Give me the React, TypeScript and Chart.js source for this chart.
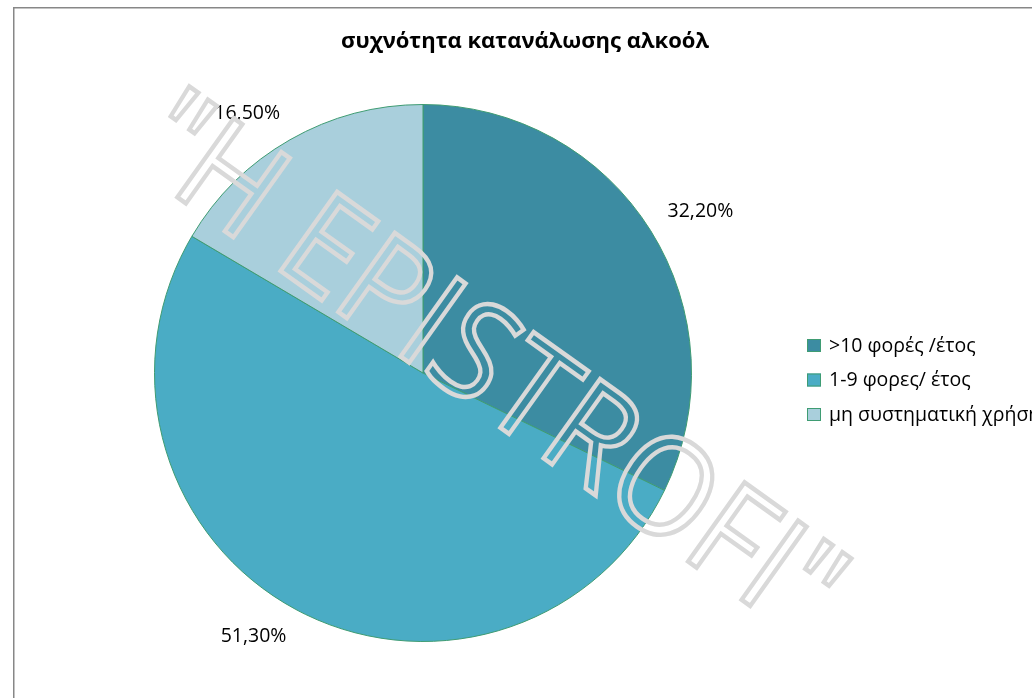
import React, { useEffect, useRef } from "react";
import { Chart, registerables } from "chart.js";

Chart.register(...registerables);

const TITLE = "συχνότητα κατανάλωσης αλκοόλ";
const CATEGORIES = [">10 φορές /έτος", "1-9 φορες/ έτος", "μη συστηματική χρήση"];
const VALUES = [32.2, 51.3, 16.5];
const VALUE_LABELS = ["32,20%", "51,30%", "16,50%"];
const COLORS = ["#3C8CA2", "#4AACC5", "#A9CFDC"];
const EDGE = "#3F9C73";
const WATERMARK = '"H EPISTROFI"';

const FONT = "'Open Sans', 'Noto Sans', sans-serif";

const decorPlugin = {
  id: "decor",
  beforeDraw(chart: any) {
    const ctx = chart.ctx;
    ctx.save();
    ctx.fillStyle = "#ffffff";
    ctx.fillRect(0, 0, chart.width, chart.height);
    ctx.strokeStyle = "#878787";
    ctx.lineWidth = 1.5;
    ctx.strokeRect(13.75, 7.75, chart.width + 50, chart.height + 50);
    // title
    ctx.fillStyle = "#000000";
    ctx.font = `bold 22px ${FONT}`;
    ctx.textAlign = "center";
    ctx.textBaseline = "middle";
    ctx.fillText(TITLE, 525, 42);
    ctx.restore();
  },
  afterDatasetsDraw(chart: any) {
    const ctx = chart.ctx;
    const meta = chart.getDatasetMeta(0);
    ctx.save();
    ctx.font = `19.5px ${FONT}`;
    ctx.fillStyle = "#000000";
    ctx.textAlign = "center";
    ctx.textBaseline = "middle";
    meta.data.forEach((arc: any, i: number) => {
      const mid = (arc.startAngle + arc.endAngle) / 2;
      const r = arc.outerRadius + 20;
      const ax = arc.x + Math.cos(mid) * r;
      const ay = arc.y + Math.sin(mid) * r;
      const w = ctx.measureText(VALUE_LABELS[i]).width;
      const h = 18;
      const cx = ax + Math.sign(Math.cos(mid)) * w / 2;
      const cy = ay + Math.sign(Math.sin(mid)) * h / 2;
      ctx.fillText(VALUE_LABELS[i], cx, cy);
    });
    // legend
    ctx.textAlign = "left";
    ctx.font = `19.5px ${FONT}`;
    CATEGORIES.forEach((c, i) => {
      const y = 339 + i * 34.5;
      ctx.fillStyle = COLORS[i];
      ctx.fillRect(807, y, 14, 13);
      ctx.strokeStyle = EDGE;
      ctx.lineWidth = 1;
      ctx.strokeRect(807.5, y + 0.5, 13, 12);
      ctx.fillStyle = "#000000";
      ctx.fillText(c, 829, y + 7);
    });
    ctx.restore();
  },
  afterDraw(chart: any) {
    const ctx = chart.ctx;
    ctx.save();
    ctx.font = `500 136px ${FONT}`;
    const w = ctx.measureText(WATERMARK).width;
    const capH = ctx.measureText("H").actualBoundingBoxAscent;
    const sx = 830 / w;
    ctx.translate(492, 362);
    ctx.rotate((35.5 * Math.PI) / 180);
    ctx.scale(sx, 1);
    ctx.textAlign = "center";
    ctx.textBaseline = "alphabetic";
    ctx.strokeStyle = "#D9D9D9";
    ctx.lineWidth = 4.5;
    ctx.lineJoin = "miter";
    ctx.strokeText(WATERMARK, 0, capH / 2);
    ctx.restore();
  },
};

export default function App() {
  const ref = useRef<HTMLCanvasElement | null>(null);
  useEffect(() => {
    if (!ref.current) return;
    const chart = new Chart(ref.current, {
      type: "pie",
      data: {
        labels: CATEGORIES,
        datasets: [
          {
            data: VALUES,
            backgroundColor: COLORS,
            borderColor: EDGE,
            borderWidth: 1,
            hoverOffset: 0,
          },
        ],
      },
      options: {
        responsive: false,
        animation: false,
        layout: { padding: { top: 104, bottom: 56, left: 154, right: 340 } },
        plugins: {
          legend: { display: false },
          title: { display: false },
          tooltip: { enabled: false },
        },
      },
      plugins: [decorPlugin],
    });
    return () => chart.destroy();
  }, []);
  return (
    <canvas
      ref={ref}
      width={1032}
      height={698}
      style={{ position: "fixed", left: 0, top: 0, display: "block" }}
    />
  );
}
